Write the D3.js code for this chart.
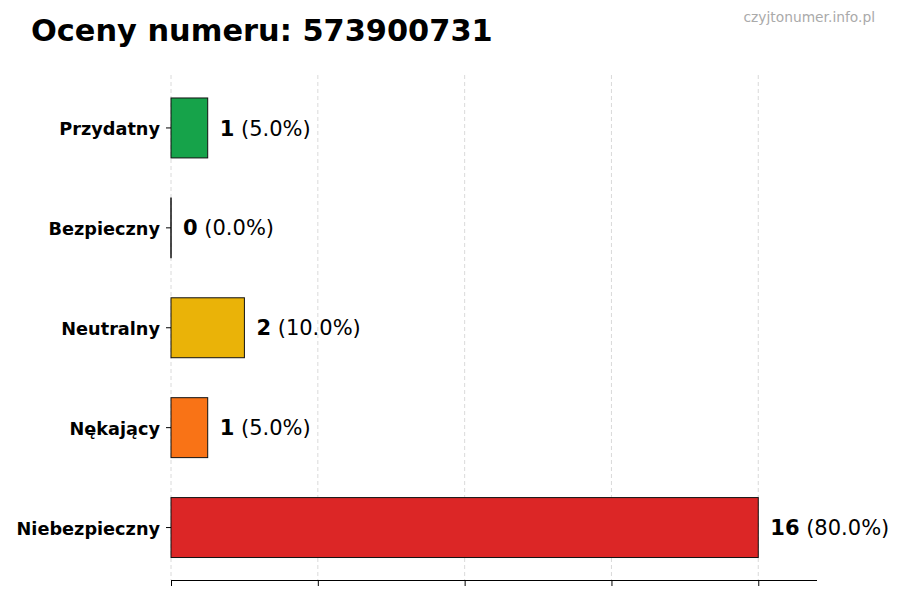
<!DOCTYPE html>
<html><head><meta charset="utf-8">
<script src="https://cdn.jsdelivr.net/npm/d3@7"></script>
<style>body{margin:0;background:#fff}svg{font-family:"DejaVu Sans",sans-serif}</style>
</head><body>
<svg id="c" width="900" height="600"></svg>
<script>
const categories = ["Przydatny","Bezpieczny","Neutralny","Nękający","Niebezpieczny"];
const counts = [1,0,2,1,16];
const percents = ["5.0%","0.0%","10.0%","5.0%","80.0%"];
const colors = ["#16a34a","#15803d","#eab308","#f97316","#dc2626"];
const xTicks = [0,4,8,12,16];
const title = "Oceny numeru: 573900731";
const watermark = "czyjtonumer.info.pl";

const svg = d3.select("#c");
const x = d3.scaleLinear().domain([0,17.6]).range([171,817]);
const y = d3.scaleBand().domain(categories).range([78,577.5]).paddingInner(0.4).paddingOuter(0.2);

// grid
svg.append("g").selectAll("line").data(xTicks).join("line")
  .attr("x1",d=>x(d)).attr("x2",d=>x(d)).attr("y1",75).attr("y2",580)
  .attr("stroke","#d0d0d0").attr("stroke-width",0.8).attr("stroke-dasharray","4,3");

// bars
svg.append("g").selectAll("rect").data(categories).join("rect")
  .attr("x",x(0)).attr("y",d=>y(d)).attr("height",y.bandwidth())
  .attr("width",(d,i)=>Math.max(x(counts[i])-x(0),0.01))
  .attr("fill",(d,i)=>colors[i]).attr("stroke","#111").attr("stroke-width",1);
// zero-width bar edges
svg.append("g").selectAll("line").data(categories.filter((d,i)=>counts[i]===0)).join("line")
  .attr("x1",x(0)).attr("x2",x(0)).attr("y1",d=>y(d)).attr("y2",d=>y(d)+y.bandwidth())
  .attr("stroke","#111").attr("stroke-width",1);

// x axis
const xa = svg.append("g").attr("transform","translate(0,580)")
  .call(d3.axisBottom(x).tickValues(xTicks).tickFormat("").tickSize(6).tickSizeOuter(0));
xa.select(".domain").attr("d","M171,0.5H817").attr("stroke","#000");
xa.selectAll(".tick line").attr("stroke","#000");

// y axis
const ya = svg.append("g").attr("transform","translate(171,0)")
  .call(d3.axisLeft(y).tickSize(5).tickPadding(6));
ya.select(".domain").remove();
ya.selectAll(".tick line").attr("stroke","#000");
ya.selectAll(".tick text").attr("font-size","17.7px").attr("font-weight","bold").attr("fill","#000")
  .attr("font-family","DejaVu Sans").attr("dy","0.4em");

// value labels
const lab = svg.append("g").selectAll("text").data(categories).join("text")
  .attr("x",(d,i)=>x(counts[i])+12).attr("y",d=>y(d)+y.bandwidth()/2)
  .attr("dy","0.36em").attr("font-size","21px").attr("fill","#000");
lab.append("tspan").attr("font-weight","bold").text((d,i)=>counts[i]);
lab.append("tspan").text((d,i)=>" ("+percents[i]+")");

svg.append("text").attr("x",31).attr("y",41).attr("font-size","30.4px").attr("font-weight","bold")
  .attr("fill","#000").text(title);
svg.append("text").attr("x",875).attr("y",22).attr("text-anchor","end").attr("font-size","13.8px")
  .attr("fill","#aaa").text(watermark);
</script>
</body></html>
